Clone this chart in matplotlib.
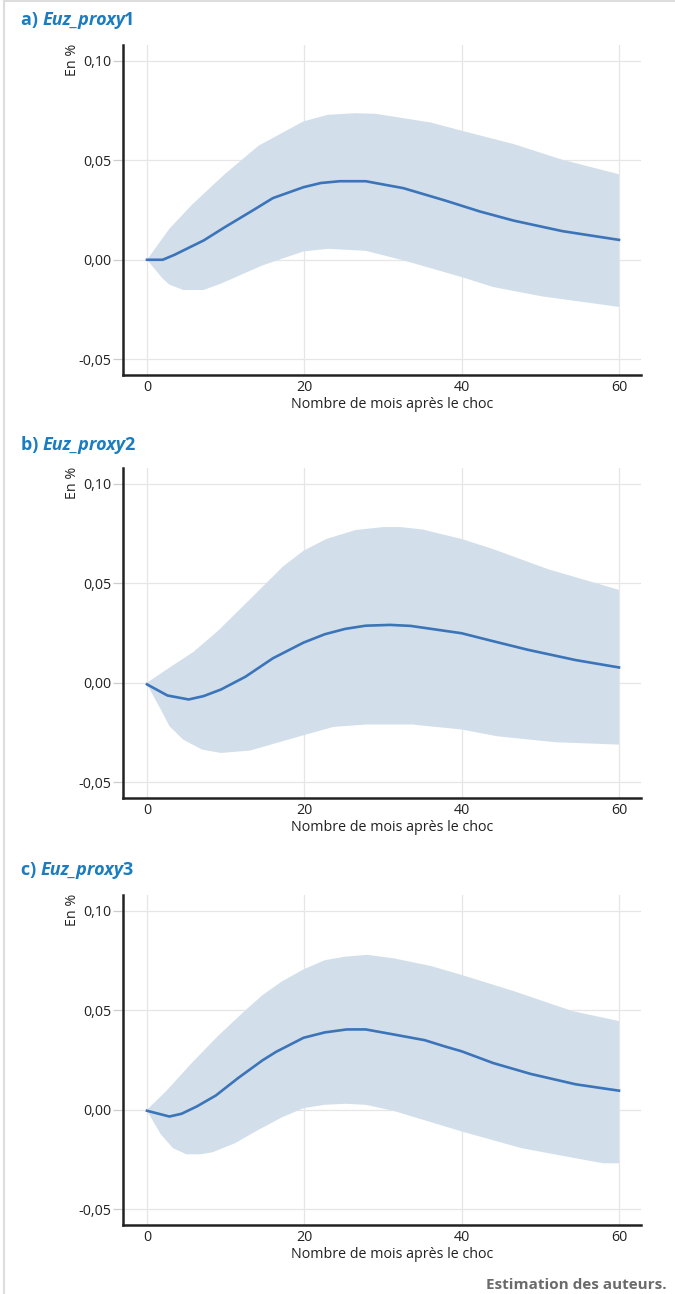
import numpy as np
import matplotlib
matplotlib.use("Agg")
import matplotlib.pyplot as plt
from matplotlib.lines import Line2D

plt.rcParams['font.family'] = ['Open Sans', 'DejaVu Sans']

# ---------------- data ----------------
panel_letters = ["a)", "b)", "c)"]
panel_names = ["Euz_proxy", "Euz_proxy", "Euz_proxy"]
panel_numbers = ["1", "2", "3"]

x_ticks = [0, 20, 40, 60]
x_tick_labels = ["0", "20", "40", "60"]
y_ticks = [-0.05, 0.00, 0.05, 0.10]
y_tick_labels = ["-0,05", "0,00", "0,05", "0,10"]

# Panel a
mean_a_m = [0, 2, 3.5, 5.5, 7.2, 9.9, 13.4, 16, 19.9, 22.1, 24.5, 27.8, 32.6, 37.9, 42.3, 46.6, 52.8, 60]
mean_a = [0.0, 0.0, 0.0025, 0.0064, 0.0097, 0.0164, 0.0247, 0.031, 0.0365, 0.0386, 0.0395, 0.0395,
          0.036, 0.0298, 0.0243, 0.0197, 0.0144, 0.0100]
up_a_m = [0, 2.85, 5.7, 9.9, 14.2, 19.9, 23, 26.5, 29.1, 36.1, 40, 46.6, 52.8, 60]
up_a = [0.0, 0.0156, 0.0276, 0.0431, 0.0574, 0.0696, 0.0729, 0.0737, 0.0734, 0.069, 0.0649,
        0.0582, 0.0503, 0.043]
lo_a_m = [0, 2, 2.85, 4.6, 7.2, 9.4, 14.7, 19.9, 23, 27.8, 32.6, 40, 44, 50.2, 60]
lo_a = [0.0, -0.0095, -0.0125, -0.0152, -0.0152, -0.012, -0.0028, 0.0042, 0.0055, 0.0045,
        -0.0003, -0.0087, -0.0137, -0.0184, -0.0237]

# Panel b
mean_b_m = [0, 2.6, 5.3, 7.2, 9.4, 12.5, 16, 19.9, 22.6, 25.2, 27.8, 30.9, 33.5, 40, 43.6, 48.4, 54.5, 60]
mean_b = [-0.0008, -0.0064, -0.0084, -0.0067, -0.0034, 0.003, 0.0123, 0.0202, 0.0244, 0.0271,
          0.0287, 0.0291, 0.0286, 0.0249, 0.0213, 0.0166, 0.0114, 0.0077]
up_b_m = [0, 2.85, 5.9, 9, 12.9, 17.3, 19.9, 22.8, 26.5, 30, 32.2, 35, 40, 44, 51, 60]
up_b = [0.0, 0.0076, 0.0155, 0.026, 0.0412, 0.0585, 0.0664, 0.0723, 0.0768, 0.0783, 0.0783,
        0.0771, 0.0723, 0.0672, 0.0571, 0.0467]
lo_b_m = [0, 1.75, 2.85, 4.6, 7, 9.4, 13.1, 19.9, 23.7, 27.8, 33.7, 40, 44.5, 51.9, 60]
lo_b = [-0.0008, -0.0134, -0.0218, -0.0286, -0.0336, -0.0353, -0.0341, -0.0264, -0.0222,
        -0.021, -0.021, -0.0235, -0.0269, -0.0299, -0.0311]

# Panel c
mean_c_m = [0, 2.85, 4.4, 6.35, 8.76, 11.6, 14.7, 16.4, 19.9, 22.6, 25.4, 27.8, 30.9, 35.3, 37.9,
            40, 44, 48.8, 54.5, 60]
mean_c = [-0.0005, -0.0034, -0.002, 0.0017, 0.0072, 0.016, 0.0249, 0.0291, 0.0362, 0.0389,
          0.0404, 0.0404, 0.0382, 0.035, 0.0318, 0.0294, 0.0235, 0.018, 0.0128, 0.0096]
up_c_m = [0, 2.4, 5.5, 9, 12.5, 14.7, 17.1, 19.9, 22.6, 25.2, 28, 31.3, 36.1, 40, 46.6, 54.1, 60]
up_c = [0.0, 0.0092, 0.0227, 0.037, 0.05, 0.0577, 0.0644, 0.0706, 0.0752, 0.077, 0.0779,
        0.0762, 0.0723, 0.0678, 0.0597, 0.0496, 0.0446]
lo_c_m = [0, 1.75, 3.3, 5, 6.8, 8.3, 11.2, 13.8, 17.1, 19.9, 22.6, 25.2, 27.8, 31.3, 40, 47.6,
          54.5, 58, 60]
lo_c = [-0.0005, -0.0123, -0.0193, -0.0224, -0.0224, -0.0214, -0.0168, -0.0109, -0.0039,
        0.0008, 0.0025, 0.003, 0.0025, -0.0005, -0.0109, -0.0193, -0.0244, -0.0269, -0.0269]

panels = [
    (mean_a_m, mean_a, up_a_m, up_a, lo_a_m, lo_a),
    (mean_b_m, mean_b, up_b_m, up_b, lo_b_m, lo_b),
    (mean_c_m, mean_c, up_c_m, up_c, lo_c_m, lo_c),
]

x_label = "Nombre de mois après le choc"
y_label = "En %"
source = "Estimation des auteurs."

# ---------------- style ----------------
W, H = 675, 1294
fig = plt.figure(figsize=(W / 100, H / 100), dpi=100)

line_col = "#3c74b9"
band_col = "#d2dfea"
title_col = "#1b7cc0"
grid_col = "#e6e6e6"
text_col = "#222222"
fs = 10.3

ax_left = 123 / W
ax_w = (641 - 123) / W
tops = [45, 468, 895]
bottoms = [374.5, 797.5, 1224.5]
title_y = [20, 445, 870]

for i, (mm, mv, um, uv, lm, lv) in enumerate(panels):
    b = 1 - bottoms[i] / H
    h = (bottoms[i] - tops[i]) / H
    ax = fig.add_axes([ax_left, b, ax_w, h])
    ax.fill(np.concatenate([um, lm[::-1]]), np.concatenate([uv, lv[::-1]]),
            color=band_col, lw=0, zorder=1)
    ax.plot(mm, mv, color=line_col, lw=1.9, zorder=3, solid_joinstyle='round')
    ax.set_xlim(-3.05, 62.8)
    ax.set_ylim(-0.0577, 0.108)
    ax.set_xticks(x_ticks)
    ax.set_xticklabels(x_tick_labels)
    ax.set_yticks(y_ticks)
    ax.set_yticklabels(y_tick_labels)
    ax.grid(True, color=grid_col, lw=0.9, zorder=0)
    ax.set_axisbelow(True)
    for s in ["top", "right"]:
        ax.spines[s].set_visible(False)
    for s in ["left", "bottom"]:
        ax.spines[s].set_color("#222222")
        ax.spines[s].set_linewidth(1.8)
    ax.tick_params(axis='x', length=0, pad=4, labelsize=fs, labelcolor=text_col)
    ax.tick_params(axis='y', length=7.2, width=0.9, color="#cccccc", pad=1.2,
                   labelsize=fs, labelcolor=text_col)
    ax.set_xlabel(x_label, fontsize=fs, color=text_col, labelpad=1)
    ax.xaxis.set_label_coords((392.5 - 123) / 518, -30 / (bottoms[i] - tops[i]),
                              transform=ax.transAxes)
    ax.xaxis.label.set_va('center')
    # ylabel "En %"
    fig.text(72.5 / W, 1 - tops[i] / H + 1 / H, y_label, rotation=90, ha='center', va='top',
             fontsize=fs, color=text_col)

    # title pieces
    fig.canvas.draw()
    r = fig.canvas.get_renderer()
    ty = 1 - title_y[i] / H
    t1 = fig.text(21 / W, ty, panel_letters[i] + " ", fontsize=13, fontweight='bold',
                  color=title_col, va='center', ha='left')
    bb = t1.get_window_extent(r)
    t2 = fig.text(bb.x1 / W, ty, panel_names[i], fontsize=13, fontweight='bold',
                  style='italic', color=title_col, va='center', ha='left')
    bb2 = t2.get_window_extent(r)
    fig.text((bb2.x1 - 2) / W, ty, panel_numbers[i], fontsize=13, fontweight='bold',
             color=title_col, va='center', ha='left')

fig.text(667 / W, 1 - 1285 / H, source, fontsize=11, fontweight='bold', color="#6b6b6b",
         ha='right', va='center')

# frame border lines (top and left)
fig.add_artist(Line2D([3.5 / W, 3.5 / W], [0, 1 - 1 / H], color="#dddddd", lw=1.5,
                      transform=fig.transFigure))
fig.add_artist(Line2D([3.5 / W, 1], [1 - 1 / H, 1 - 1 / H], color="#dddddd", lw=1.5,
                      transform=fig.transFigure))

fig.savefig("out.png", dpi=100)
